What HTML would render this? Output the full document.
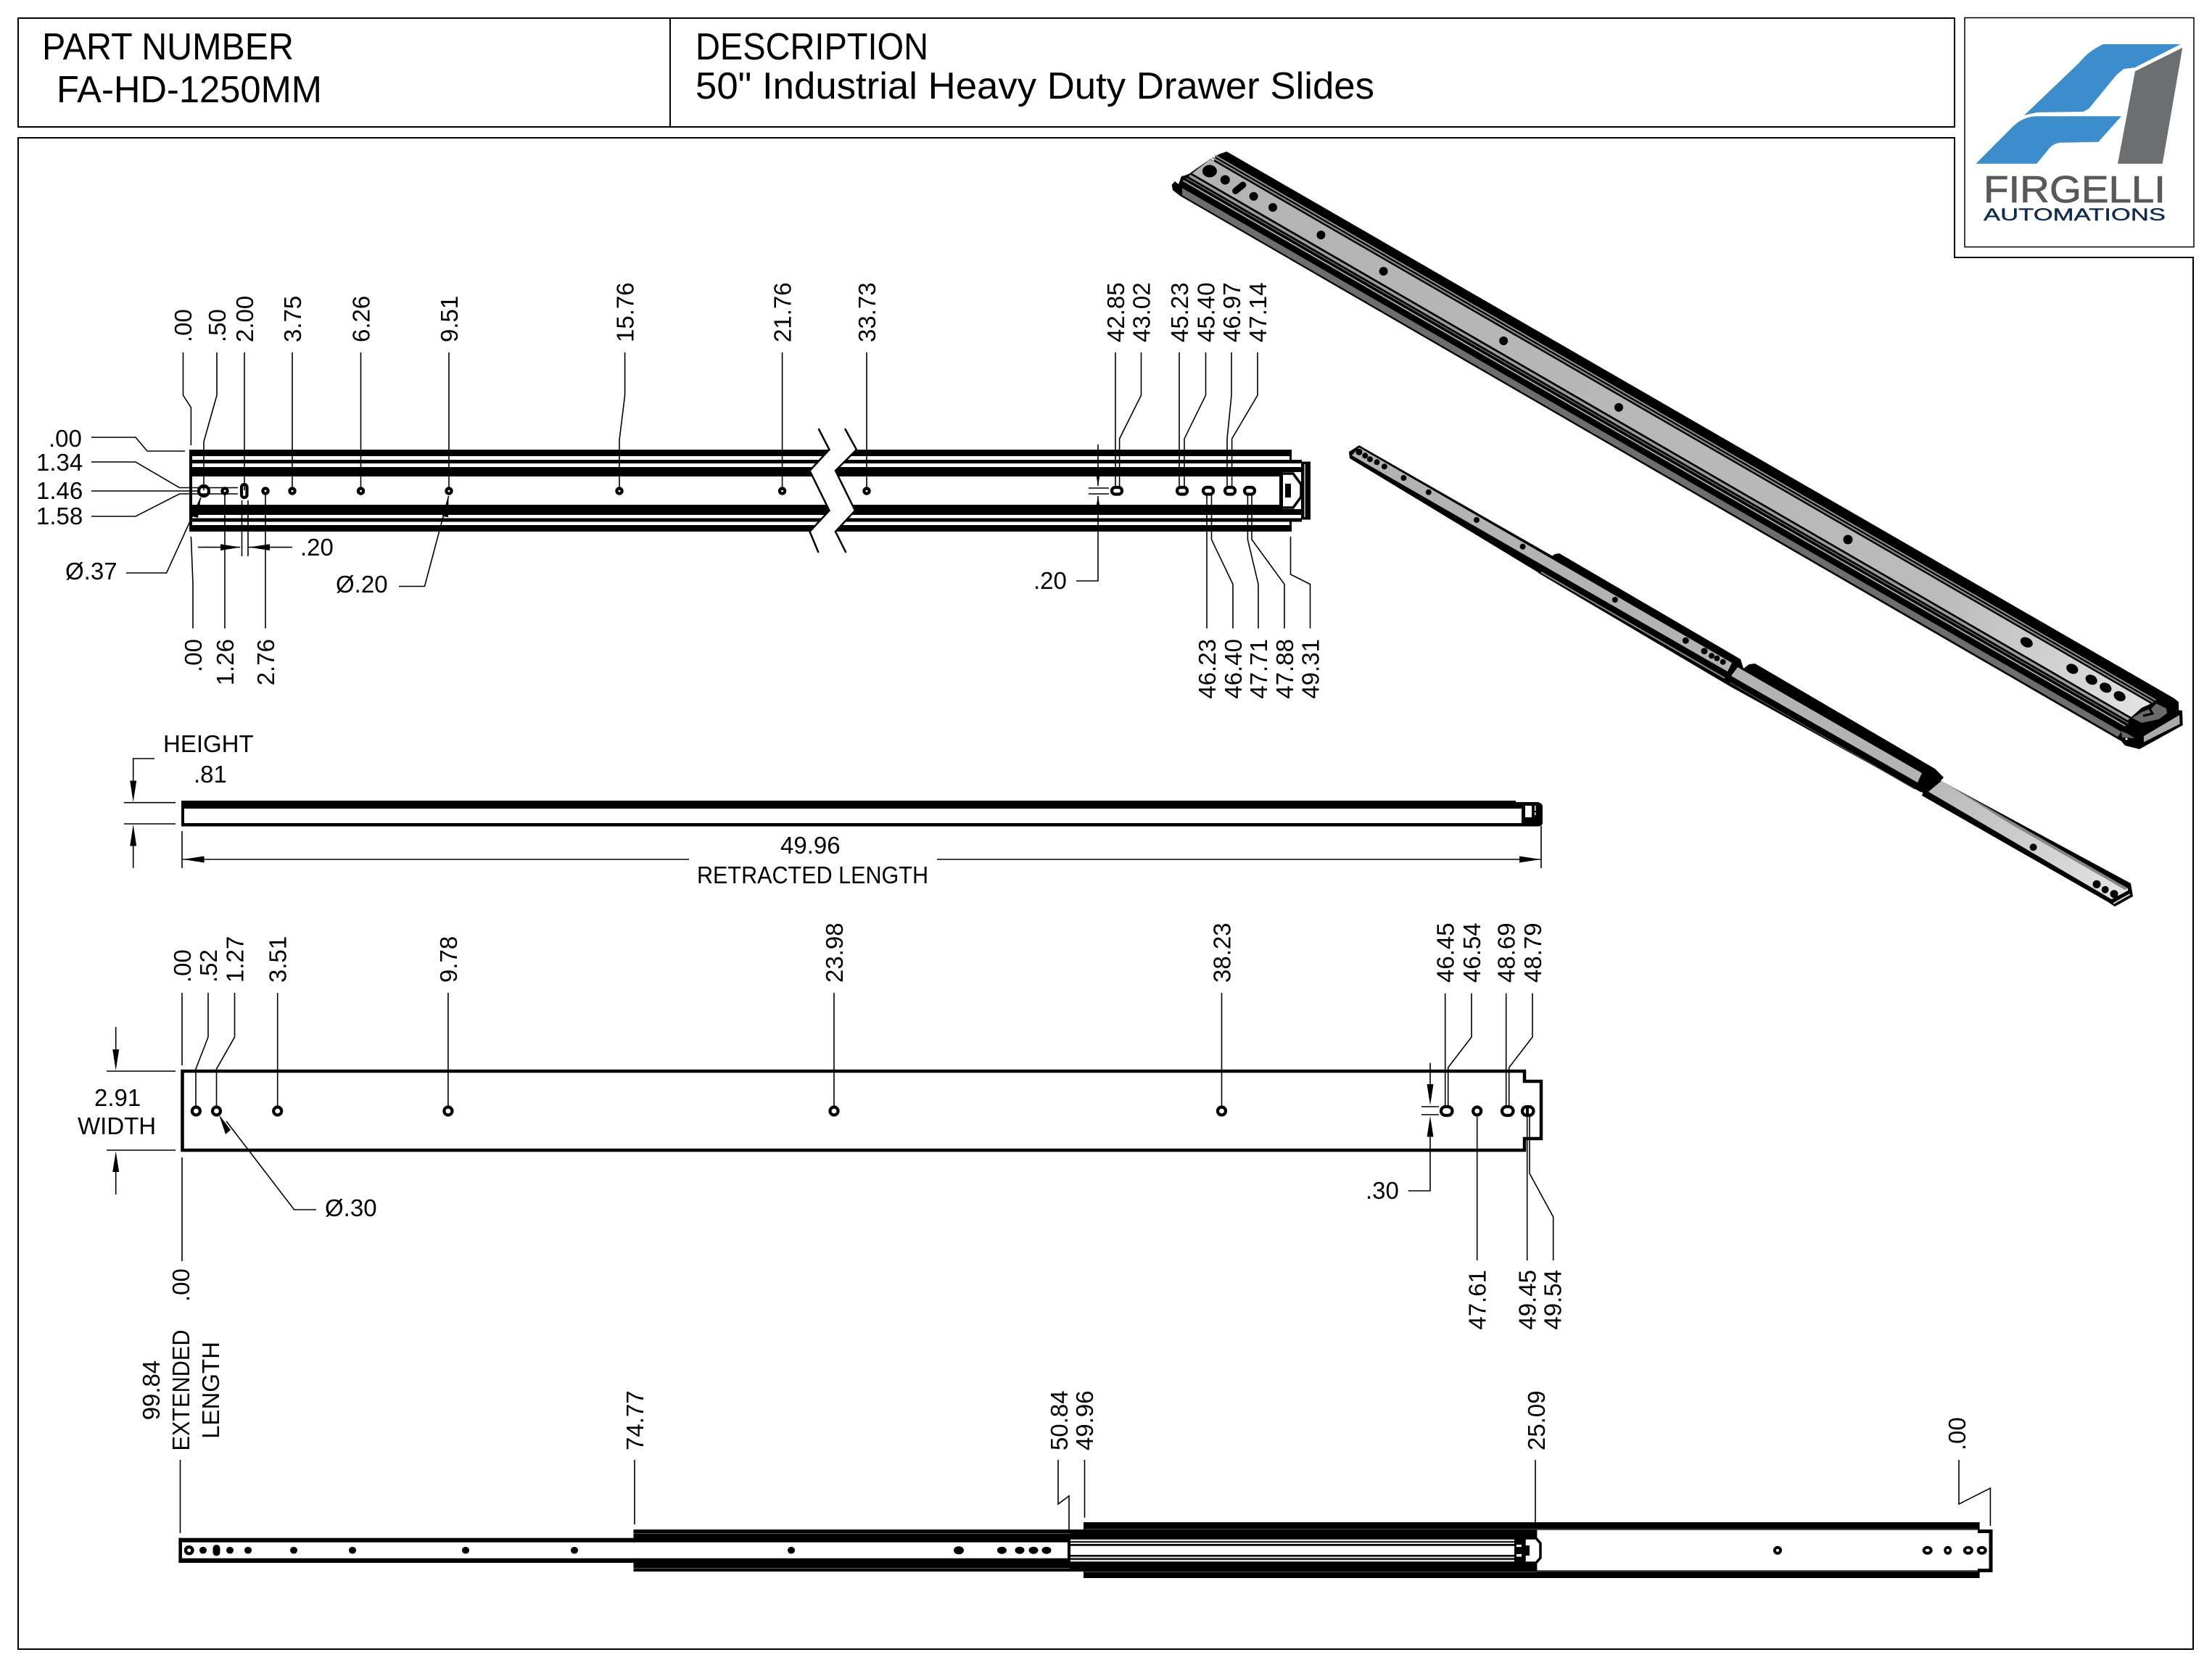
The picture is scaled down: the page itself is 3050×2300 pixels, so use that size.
<!DOCTYPE html>
<html><head><meta charset="utf-8"><title>FA-HD-1250MM</title>
<style>
html,body{margin:0;padding:0;background:#fff}
svg{display:block}
text{font-family:"Liberation Sans",sans-serif;fill:#000;font-size:33px}
.l{fill:none;stroke:#000;stroke-width:1.6}
.b{stroke:none;fill:#000}
.t{font-size:52px}
.e{text-anchor:end}
.m{text-anchor:middle}
</style></head><body>
<svg xmlns="http://www.w3.org/2000/svg" width="3050" height="2300" viewBox="0 0 3050 2300">
<defs>
<linearGradient id="pg" gradientUnits="userSpaceOnUse" x1="1650" y1="230" x2="2960" y2="980"><stop offset="0" stop-color="#b3b3b3"/><stop offset=".78" stop-color="#bababa"/><stop offset="1" stop-color="#e2e2e2"/></linearGradient>
<linearGradient id="pg2" gradientUnits="userSpaceOnUse" x1="2660" y1="1080" x2="2930" y2="1235"><stop offset="0" stop-color="#b8b8b8"/><stop offset="1" stop-color="#e4e4e4"/></linearGradient>
</defs>
<rect width="3050" height="2300" fill="#fff"/>

<!-- frames -->
<path d="M25 25H2695V175H25Z M924 25V175" fill="none" stroke="#000" stroke-width="2"/>
<path d="M25 190H2695V355H3024V2274H25Z" fill="none" stroke="#000" stroke-width="2"/>
<rect x="2709" y="24.500" width="316" height="316" fill="#fff" stroke="#000" stroke-width="1.500"/>
<text class="t" x="58" y="82" textLength="347" lengthAdjust="spacingAndGlyphs">PART NUMBER</text>
<text class="t" x="78" y="141" textLength="366" lengthAdjust="spacingAndGlyphs">FA-HD-1250MM</text>
<text class="t" x="959" y="82" textLength="321" lengthAdjust="spacingAndGlyphs">DESCRIPTION</text>
<text class="t" x="959" y="136" textLength="936" lengthAdjust="spacingAndGlyphs">50" Industrial Heavy Duty Drawer Slides</text>

<!-- logo -->
<path fill="#3c8dcc" d="M2791 159L2866.700 86.700Q2880 70 2900 61H3006.700L2943.300 93.300L2928.300 95L2918.300 103.300L2880 150L2872.700 154L2808.300 155Z"/>
<path fill="#3c8dcc" d="M2724.300 225.700L2776.700 173.300Q2790 161 2808.300 160.300H2925L2893.300 195.700L2840 196.700Q2832 198 2826.700 203.300L2808.300 225.700Z"/>
<path fill="#6d6e70" d="M3009.300 65.700L2981.700 225.700H2920L2944 98.300Z"/>
<text x="2735" y="279" style="font-size:52px;fill:#58595b;stroke:#58595b;stroke-width:.8" textLength="251" lengthAdjust="spacingAndGlyphs">FIRGELLI</text>
<text x="2735" y="304" style="font-size:24px;fill:#0e2b4f;stroke:#0e2b4f;stroke-width:.4" textLength="251" lengthAdjust="spacingAndGlyphs">AUTOMATIONS</text>

<!-- TOP VIEW rails -->
<g class="b">
<rect x="261" y="620" width="1520" height="9"/>
<rect x="261" y="634" width="1534" height="5"/>
<rect x="261" y="644" width="1534" height="7"/>
<rect x="261" y="651" width="1508" height="6"/>
<rect x="261" y="696" width="1508" height="6"/>
<rect x="261" y="702" width="1534" height="8"/>
<rect x="261" y="714.500" width="1534" height="5"/>
<rect x="261" y="724" width="1520" height="9"/>
<rect x="261" y="620" width="4" height="113"/>
<rect x="1778" y="620" width="3" height="14"/>
<rect x="1778" y="719" width="3" height="14"/>
<rect x="1764" y="651" width="5" height="51"/>
<rect x="1772" y="667" width="8" height="19"/>
</g>
<path d="M1769 653H1783L1794 668V685L1783 700H1769" fill="none" stroke="#000" stroke-width="3.500"/>
<path d="M1794 636.500H1807V716.500H1794Z" fill="#000"/>
<path d="M1799 640V713" stroke="#fff" stroke-width="1.200"/>
<polygon fill="#fff" points="1128.600,591 1143.500,620 1116.500,649 1143.500,704 1116.500,733 1128.600,762 1166.500,762 1152,733 1179,704 1152,649 1181,620 1165,591"/>
<polyline class="l" style="stroke-width:2.500" points="1128.600,591 1143.500,620 1116.500,649 1143.500,704 1116.500,733 1128.600,762"/>
<polyline class="l" style="stroke-width:2.500" points="1165,591 1181,620 1152,649 1179,704 1152,733 1166.500,762"/>
<!-- top holes -->
<g fill="#fff" stroke="#000" stroke-width="4.200">
<circle cx="281" cy="677" r="7"/>
<circle cx="310" cy="677" r="3.600"/><circle cx="366" cy="677" r="3.600"/><circle cx="403" cy="677" r="3.600"/><circle cx="497.500" cy="677" r="3.600"/><circle cx="619" cy="677" r="3.600"/><circle cx="854" cy="677" r="3.600"/><circle cx="1078.600" cy="677" r="3.600"/><circle cx="1195" cy="677" r="3.600"/>
<rect x="333" y="668" width="7.500" height="18" rx="3.700"/>
<rect x="1533" y="672" width="14" height="9.500" rx="4.700"/><rect x="1623" y="672" width="14" height="9.500" rx="4.700"/><rect x="1659" y="672" width="14" height="9.500" rx="4.700"/><rect x="1689" y="672" width="14" height="9.500" rx="4.700"/><rect x="1716" y="672" width="14" height="9.500" rx="4.700"/>
</g>
<!-- top leaders -->
<path class="l" d="M252.500 486V545L263.400 562V614M299 486V545L281 609V676M337 486V676M403 486V676M497.500 486V676M619 486V676M861.600 486V545L854 607V676M1078.600 486V676M1195 486V676M1538 486V670M1573.500 486V545L1543.600 605V670M1626 486V670M1662.500 486V545L1633 605V670M1698 486V545L1692 605V670M1734 486V545L1698.600 605V670"/>
<path class="l" d="M1664 683V866.500M1670.500 683V744L1700 805.600V866.500M1720.400 683V744L1735 805.600V866.500M1726 683V744L1771 805.600V866.500M1779.500 740V792L1806.500 805.600V866.500M263.400 740L266 804V866.500M310 680V866.500M366 680V866.500"/>
<path class="l" d="M126 603H187L203 622H255M126 637H187L247.500 672.500H328M126 677H274M126 712H187L247.500 681H328"/>
<path class="l" d="M273 754.600H331M403 754.600H343M333.500 690V767M342 690V767M174 790H229.600L277 686M550 808.500H585.500L618.600 684"/>
<polygon class="b" points="331.500,754.600 304,750.300 304,759 "/><polygon class="b" points="343,754.600 372,750.300 372,759"/>
<polygon class="b" points="277,686 265,712 273,714"/><polygon class="b" points="618.600,684 610,712 618,713"/>
<path class="l" d="M1514 613V670M1514 684V801H1484M1501 673H1529M1501 681H1529"/>
<polygon class="b" points="1514,670 1509.500,644 1518.500,644"/><polygon class="b" points="1514,684 1509.500,710 1518.500,710"/>
<!-- top labels -->
<text x="67" y="616">.00</text><text x="50" y="649">1.34</text><text x="50" y="688">1.46</text><text x="50" y="723">1.58</text>
<text x="414" y="766">.20</text><text x="90" y="799">Ø.37</text><text x="463" y="817">Ø.20</text><text x="1425" y="812">.20</text>
<text transform="translate(264 472)rotate(-90)">.00</text>
<text transform="translate(311 472)rotate(-90)">.50</text>
<text transform="translate(349 472)rotate(-90)">2.00</text>
<text transform="translate(415 472)rotate(-90)">3.75</text>
<text transform="translate(509.500 472)rotate(-90)">6.26</text>
<text transform="translate(631 472)rotate(-90)">9.51</text>
<text transform="translate(873.600 472)rotate(-90)">15.76</text>
<text transform="translate(1090.600 472)rotate(-90)">21.76</text>
<text transform="translate(1207 472)rotate(-90)">33.73</text>
<text transform="translate(1550 472)rotate(-90)">42.85</text>
<text transform="translate(1585.500 472)rotate(-90)">43.02</text>
<text transform="translate(1638 472)rotate(-90)">45.23</text>
<text transform="translate(1674.500 472)rotate(-90)">45.40</text>
<text transform="translate(1710 472)rotate(-90)">46.97</text>
<text transform="translate(1746 472)rotate(-90)">47.14</text>
<g class="e">
<text transform="translate(278 881)rotate(-90)">.00</text>
<text transform="translate(322 881)rotate(-90)">1.26</text>
<text transform="translate(378 881)rotate(-90)">2.76</text>
<text transform="translate(1676 881)rotate(-90)">46.23</text>
<text transform="translate(1712 881)rotate(-90)">46.40</text>
<text transform="translate(1747 881)rotate(-90)">47.71</text>
<text transform="translate(1783 881)rotate(-90)">47.88</text>
<text transform="translate(1818.500 881)rotate(-90)">49.31</text>
</g>

<!-- SIDE VIEW -->
<g class="b">
<rect x="250" y="1104" width="1840" height="11"/><rect x="2090" y="1106" width="32" height="9"/>
<rect x="250" y="1135" width="1870" height="4.500"/><rect x="250" y="1104" width="4" height="35"/>
<rect x="2098" y="1107" width="29" height="32.500" rx="5"/>
</g>
<rect x="2103" y="1111" width="9" height="16" fill="#fff"/><rect x="2116" y="1111" width="1.500" height="7" fill="#fff"/><rect x="2116" y="1120" width="1.500" height="4" fill="#fff"/>
<path class="l" d="M213 1046H183.700V1078M183.700 1165V1197M171 1106.700H242M171 1136H242M251 1146V1197M2125 1139V1197M252 1185H950M1292 1185H2124"/>
<polygon class="b" points="183.700,1106 179.200,1076.500 188.200,1076.500"/><polygon class="b" points="183.700,1137 179.200,1166.500 188.200,1166.500"/>
<polygon class="b" points="252.500,1185 281.600,1180.500 281.600,1189.500"/><polygon class="b" points="2124,1185 2095,1180.500 2095,1189.500"/>
<text x="225" y="1037">HEIGHT</text><text x="267" y="1079">.81</text>
<text x="1076" y="1177">49.96</text><text x="961" y="1218" textLength="319" lengthAdjust="spacingAndGlyphs">RETRACTED LENGTH</text>

<!-- PLAN VIEW -->
<path d="M251.500 1477H2102V1491H2125V1570H2102V1586H251.500Z" fill="#fff" stroke="#000" stroke-width="4.500"/>
<g fill="#fff" stroke="#000" stroke-width="4.200">
<circle cx="270.400" cy="1532" r="5.500"/><circle cx="298.500" cy="1532" r="5.500"/><circle cx="382.700" cy="1532" r="5.500"/><circle cx="617.900" cy="1532" r="5.500"/><circle cx="1150" cy="1532" r="5.500"/><circle cx="1684.500" cy="1532" r="5.500"/><circle cx="2036.700" cy="1532" r="5.500"/>
<rect x="1987" y="1526" width="15.500" height="12" rx="6"/><rect x="2071" y="1526" width="15.500" height="12" rx="6"/><rect x="2099" y="1526" width="15.500" height="12" rx="6"/>
</g>
<path d="M2106 1527V1537" stroke="#000" stroke-width="4"/>
<path class="l" d="M251 1369V1469M287 1369V1430L270 1474V1526M323.500 1369V1430L298.500 1474V1526M382.700 1369V1526M617.900 1369V1526M1150 1369V1526M1684.500 1369V1526M1992.700 1369.600V1524M2029 1369.600V1430L1996.700 1472V1524M2076.700 1369.600V1524M2113 1369.600V1430L2080.700 1472V1524M2036.700 1540V1738M2105.700 1540V1738M2109 1540V1618L2141.700 1678V1738"/>
<path class="l" d="M1972 1465.600V1495M1972 1567V1642H1941.700M1960 1526H1984M1960 1537H1984M159.700 1416V1447M159.700 1616V1647M147 1477H242M147 1586H242M251 1596V1739M312 1546L405.600 1668H436"/>
<polygon class="b" points="1972,1524 1967.500,1495 1976.500,1495"/><polygon class="b" points="1972,1539 1967.500,1567.500 1976.500,1567.500"/>
<polygon class="b" points="159.700,1476 155.200,1447 164.200,1447"/><polygon class="b" points="159.700,1587.500 155.200,1616 164.200,1616"/>
<polygon class="b" points="302,1537 311,1564 318,1558"/>
<text x="130" y="1525">2.91</text><text x="107" y="1564">WIDTH</text><text x="448" y="1677">Ø.30</text><text x="1883" y="1653">.30</text>
<text transform="translate(263 1355)rotate(-90)">.00</text>
<text transform="translate(299 1355)rotate(-90)">.52</text>
<text transform="translate(335.500 1355)rotate(-90)">1.27</text>
<text transform="translate(394.700 1355)rotate(-90)">3.51</text>
<text transform="translate(629.900 1355)rotate(-90)">9.78</text>
<text transform="translate(1162 1355)rotate(-90)">23.98</text>
<text transform="translate(1696.500 1355)rotate(-90)">38.23</text>
<text transform="translate(2004.700 1355)rotate(-90)">46.45</text>
<text transform="translate(2041 1355)rotate(-90)">46.54</text>
<text transform="translate(2088.700 1355)rotate(-90)">48.69</text>
<text transform="translate(2125 1355)rotate(-90)">48.79</text>
<text transform="translate(261 1795)rotate(-90)">.00</text>
<g class="e">
<text transform="translate(2048.700 1751)rotate(-90)">47.61</text>
<text transform="translate(2117.700 1751)rotate(-90)">49.45</text>
<text transform="translate(2152.700 1751)rotate(-90)">49.54</text>
</g>

<!-- EXTENDED VIEW -->
<g class="b">
<rect x="246.400" y="2120.700" width="630" height="6"/><rect x="246.400" y="2148.700" width="630" height="6.300"/><rect x="246.400" y="2120.700" width="4.600" height="34.300"/>
<rect x="873.500" y="2109" width="602" height="17.700"/><rect x="873.500" y="2148.700" width="602" height="18.300"/><rect x="1472" y="2126" width="4" height="24"/>
<rect x="1473" y="2109" width="22" height="58"/>
<rect x="1494" y="2099" width="625.400" height="77"/>
<rect x="2119" y="2099" width="610.600" height="11"/><rect x="2119" y="2165" width="610.600" height="11"/>
</g>
<g fill="none" stroke="#555" stroke-width="1"><path d="M873.500 2114.500H1475M873.500 2162.500H1475M1496 2108.500H2119M1496 2167.500H2119"/></g>
<path d="M2119 2109H2727M2119 2166H2727" stroke="#999" stroke-width="1"/>
<rect x="1476" y="2131.700" width="612" height="12.300" fill="#fff"/>
<g fill="#e4e4e4"><rect x="1476" y="2122.700" width="612" height="2.500"/><rect x="1476" y="2127" width="612" height="2"/><rect x="1476" y="2146.500" width="612" height="2"/><rect x="1476" y="2150.800" width="612" height="2.500"/></g>
<rect x="2088" y="2124" width="22" height="28" fill="#000"/>
<polygon points="2102,2121 2118,2121 2124,2128 2124,2148 2118,2155 2102,2155" fill="#fff" stroke="#000" stroke-width="3.500"/>
<rect x="2098" y="2131" width="11" height="14" fill="#000"/>
<rect x="2091" y="2130" width="7" height="3" fill="#fff"/><rect x="2091" y="2143" width="7" height="3.500" fill="#fff"/>
<path d="M2727 2111.500H2745V2165.500H2727" fill="none" stroke="#000" stroke-width="5"/>
<g fill="#000">
<ellipse cx="260.700" cy="2137.700" rx="7" ry="6.700"/><ellipse cx="280" cy="2137.700" rx="5" ry="4.800"/><rect x="293.500" y="2130" width="10" height="15.500" rx="5"/><ellipse cx="317" cy="2137.700" rx="5" ry="4.800"/><ellipse cx="342" cy="2137.700" rx="5" ry="4.800"/><ellipse cx="405" cy="2137.700" rx="5" ry="4.800"/><ellipse cx="486" cy="2137.700" rx="5" ry="4.800"/><ellipse cx="642" cy="2137.700" rx="5" ry="4.800"/><ellipse cx="792" cy="2137.700" rx="5" ry="4.800"/>
<ellipse cx="1091" cy="2137.700" rx="5" ry="4.800"/><ellipse cx="1322" cy="2137.700" rx="7" ry="5.500"/><ellipse cx="1381.400" cy="2137.700" rx="6.500" ry="5"/><ellipse cx="1406" cy="2137.700" rx="6.500" ry="5"/><ellipse cx="1425" cy="2137.700" rx="6.500" ry="5"/><ellipse cx="1443" cy="2137.700" rx="6.500" ry="5"/>
<ellipse cx="2451" cy="2137.700" rx="6" ry="6"/><ellipse cx="2657.700" cy="2137.700" rx="7" ry="6"/><ellipse cx="2685.700" cy="2137.700" rx="5.500" ry="6"/><ellipse cx="2713.800" cy="2137.700" rx="7" ry="6"/><ellipse cx="2732.700" cy="2137.700" rx="7" ry="6"/>
</g>
<g fill="#fff"><circle cx="260.700" cy="2137.700" r="2.500"/><circle cx="2451" cy="2137.700" r="2"/><ellipse cx="2657.700" cy="2137.700" rx="3" ry="2"/><circle cx="2685.700" cy="2137.700" r="2"/><ellipse cx="2713.800" cy="2137.700" rx="3" ry="2"/><ellipse cx="2732.700" cy="2137.700" rx="3" ry="2"/></g>
<path class="l" d="M248.500 2013V2114M875 2013V2102M1459 2013V2074L1474 2062.700V2109M1495.500 2013V2092.700M2117 2013V2099M2701 2013V2074L2744.400 2052V2104"/>
<g class="m">
<text transform="translate(220 1917)rotate(-90)">99.84</text>
<text transform="translate(261 1917)rotate(-90)" textLength="167" lengthAdjust="spacingAndGlyphs">EXTENDED</text>
<text transform="translate(302 1917)rotate(-90)">LENGTH</text>
</g>
<text transform="translate(887 2000)rotate(-90)">74.77</text>
<text transform="translate(1472 2000)rotate(-90)">50.84</text>
<text transform="translate(1507 2000)rotate(-90)">49.96</text>
<text transform="translate(2130 2000)rotate(-90)">25.09</text>
<text transform="translate(2710 2000)rotate(-90)">.00</text>

<!-- ISO big slide -->
<polygon fill="#000" points="1691.500,209 2998,963 3004,968 3004,979 3009,980 3009.700,1000 2950,1033 2930,1028 2925,1022 1627,270 1617,262 1615.600,255 1620,250 1625,254 1629,243 1633.500,242 1639,240 1669,219 1673.700,222 1676,215 1682.600,212"/>
<polygon fill="#6e6e6e" points="1630,259.200 2925,1009 2920,1016 1630,269.200"/>
<line x1="1675" y1="214.200" x2="2972.500" y2="965.500" stroke="#999" stroke-width="1.800"/>
<line x1="1671.400" y1="217.100" x2="2969" y2="968.400" stroke="#8a8a8a" stroke-width="2.200"/>
<polygon fill="url(#pg)" points="1668.500,219.500 2966,970.700 2942,990.800 1643.700,239.100"/>
<line x1="1642.900" y1="239.600" x2="2941.700" y2="991.700" stroke="#000" stroke-width="1.800"/>
<line x1="1640" y1="242" x2="2939" y2="994.100" stroke="#9a9a9a" stroke-width="3.500"/>
<line x1="1635.600" y1="245.400" x2="2934.700" y2="997.600" stroke="#777" stroke-width="1.300"/>
<line x1="1631.300" y1="248.900" x2="2930.500" y2="1001" stroke="#aaa" stroke-width="1.800"/>
<g fill="#000">
<ellipse cx="1667.900" cy="236" rx="10" ry="8.500"/><circle cx="1689.300" cy="248" r="6.500"/><circle cx="1728.600" cy="270.700" r="6"/><circle cx="1755" cy="286" r="6"/>
<circle cx="1821.400" cy="324" r="6"/><circle cx="1907.600" cy="374" r="6"/><circle cx="2073.200" cy="470" r="6"/><circle cx="2232" cy="561.700" r="6"/><circle cx="2548" cy="744" r="6.500"/>
<ellipse cx="2794.300" cy="885.700" rx="9" ry="6.500" transform="rotate(28 2794.300 885.700)"/>
<ellipse cx="2857.300" cy="922.300" rx="8.500" ry="6.500" transform="rotate(28 2857.300 922.300)"/>
<ellipse cx="2883.700" cy="937.300" rx="8.500" ry="6.500" transform="rotate(28 2883.700 937.300)"/>
<ellipse cx="2903.300" cy="948.300" rx="8.500" ry="6.500" transform="rotate(28 2903.300 948.300)"/>
<ellipse cx="2922.700" cy="960" rx="8.500" ry="6.500" transform="rotate(28 2922.700 960)"/>
</g>
<path d="M1713.800 255L1703.600 263.300" stroke="#000" stroke-width="9" stroke-linecap="round"/>
<polygon fill="#000" points="2934,993 2953,976 2975,966 2992,976 2992,990 2960,1010 2945,1015"/>
<polygon fill="#6a6a6a" points="2940,990 2953.300,981.700 2966.700,976.700 2973.300,970 2986.700,976.700 2988.300,983.300 2976.700,991.700 2953.300,996.700"/>
<path d="M2955 987L2968 984L2964 977" fill="none" stroke="#000" stroke-width="3"/>
<polygon fill="#aaa" points="2956,1015 3005,986 3005.700,998.300 2956,1023.300"/>
<polygon fill="#666" points="2925,1008 2934,1012 2944,1018 2926,1017"/>
<circle cx="2932" cy="1019" r="1.500" fill="#fff"/>

<!-- ISO small slide -->
<g fill="#000">
<polygon points="1874,614 2150,772 2122,790 1861,632 1860,623"/>
<polygon points="2144,764 2150,763 2400,909 2405,925 2383,945 2121,790 2121,780"/>
<polygon points="2411.600,916 2420,915 2668,1060 2680,1072 2660,1095 2648,1092 2383,945 2383,938"/>
<polygon points="2660,1068 2938,1218 2941,1236 2916,1250 2907,1244 2650,1097"/>
</g>
<polygon fill="#b3b3b3" points="1874,617 2388,914 2382,926 1864,628"/>
<path d="M2125 789L2378 935" stroke="#8a8a8a" stroke-width="2"/>
<polygon fill="#b3b3b3" points="2396,920 2650,1066 2644,1079 2387,932"/>
<path d="M2385 941L2640 1088" stroke="#555" stroke-width="1.200"/>
<polygon fill="url(#pg2)" points="2677,1076.700 2934,1225 2934,1228 2911.600,1240 2659,1091.700"/>
<polygon fill="#858585" points="2677,1076.700 2934,1225 2930,1227 2770,1135"/>
<path d="M2914 1246L2937 1233" stroke="#ccc" stroke-width="2"/>
<g fill="#000">
<circle cx="1874" cy="623.300" r="4.500"/><circle cx="1882.300" cy="628.300" r="4"/><circle cx="1889" cy="633.300" r="4"/><circle cx="1898.500" cy="637.300" r="4"/><circle cx="1908.900" cy="643.300" r="4"/><circle cx="1935.400" cy="659" r="4"/><circle cx="1969.800" cy="678.700" r="4"/><circle cx="2036" cy="717" r="4"/><circle cx="2099.600" cy="753.700" r="4"/><circle cx="2226.900" cy="827" r="4"/><circle cx="2324.300" cy="883.300" r="4.500"/><circle cx="2350" cy="897.700" r="4.500"/><circle cx="2360" cy="904.300" r="4"/><circle cx="2367.400" cy="907.700" r="4"/><circle cx="2375.700" cy="912.700" r="4"/>
<circle cx="2803.600" cy="1168.300" r="5"/><circle cx="2891" cy="1219.300" r="5.500"/><circle cx="2902.700" cy="1226.700" r="5"/><circle cx="2915" cy="1232.700" r="5.500"/>
<ellipse cx="2660" cy="1078" rx="12" ry="8" transform="rotate(-30 2660 1078)"/>
</g>
</svg>
</body></html>
